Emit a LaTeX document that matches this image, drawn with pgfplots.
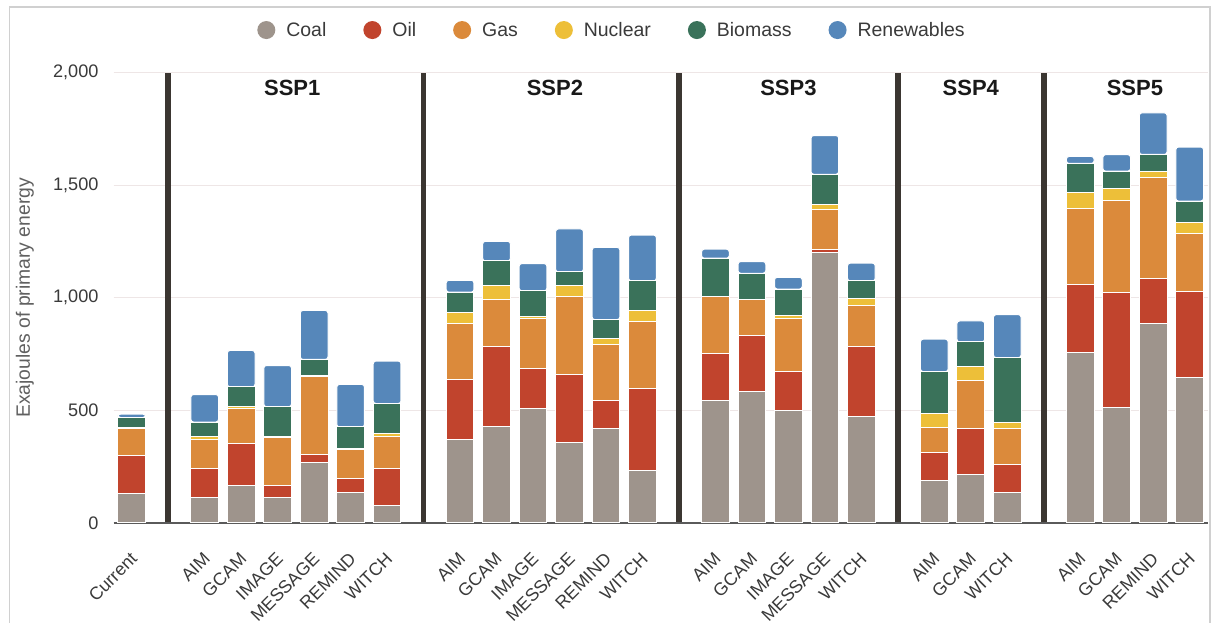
\documentclass[border=0pt]{standalone}
\usepackage{fontspec}
\setmainfont{Liberation Sans}
\usepackage{pgfplots}
\usepackage{pgfplotstable}
\pgfplotsset{compat=1.18}
\definecolor{coalc}{HTML}{9E948C}
\definecolor{oilc}{HTML}{C1442D}
\definecolor{gasc}{HTML}{DB8A3B}
\definecolor{nucc}{HTML}{EDBF39}
\definecolor{bioc}{HTML}{3A725A}
\definecolor{renc}{HTML}{5687BA}
\definecolor{sepc}{HTML}{3B3631}
\definecolor{gridc}{HTML}{EEE6E6}
\definecolor{axisc}{HTML}{5A5A5A}
\definecolor{tickc}{HTML}{3A3A3A}
\definecolor{labc}{HTML}{606060}
\definecolor{framec}{HTML}{D0D0D0}

\pgfplotstableread{
x coal oil gas nuclear biomass ren
0 131 170 118 6 43 15
2 112 129 130 11 66 122
3 166 186 158 8 86 162
4 112 54 214 3 133 183
5 269 36 347 3 71 218
6 135 60 130 4 97 189
7 77 166 139 17 131 189
9 370 269 246 51 89 53
10 430 354 207 63 110 87
11 507 181 219 12 112 121
12 355 306 343 50 61 191
13 418 125 248 28 84 321
14 231 367 297 47 133 204
16 542 209 253 3 169 40
17 582 251 158 3 115 52
18 500 173 234 14 118 52
19 1203 13 175 24 134 172
20 473 311 180 32 79 79
22 190 123 111 61 187 144
23 216 202 213 63 110 93
24 134 126 158 28 288 191
26 757 303 337 69 131 31
27 513 512 406 53 79 73
28 887 201 445 28 76 185
29 645 385 258 48 94 240
}\datatable

\pgfplotsset{
  dotlegend/.style={legend image code/.code={%
    \fill[##1,draw=none] (6.75pt,0pt) circle (6.75pt);
    \path[draw=none,fill=none] (0pt,-6.75pt) rectangle (21.75pt,6.75pt);}},
  barseg/.style={ybar, bar width=0.76, bar shift=0pt, fill=#1, draw=white, line width=0.75pt, dotlegend},
}

\begin{document}
\begin{tikzpicture}
\useasboundingbox (0,0) rectangle (912pt,466.5pt);
\fill[white] (0,0) rectangle (912pt,466.5pt);
\draw[framec, line width=0.8pt] (7.1pt,-5pt) rectangle (907.5pt,461.25pt);
\begin{axis}[
  at={(85.125pt,74.4pt)}, anchor=south west,
  scale only axis, width=820.8pt, height=337.5pt,
  xmin=-0.5, xmax=29.5, ymin=0, ymax=2000,
  clip=false,
  stack plots=y,
  axis line style={draw=none},
  tick style={draw=none},
  major tick length=0pt,
  xtick=data,
  xticklabels={Current,AIM,GCAM,IMAGE,MESSAGE,REMIND,WITCH,AIM,GCAM,IMAGE,MESSAGE,REMIND,WITCH,AIM,GCAM,IMAGE,MESSAGE,WITCH,AIM,GCAM,WITCH,AIM,GCAM,REMIND,WITCH},
  xticklabel style={font=\fontsize{13.4}{15}\selectfont, text=tickc, xshift=1.7pt, rotate=45, anchor=east, inner sep=0pt},
  xticklabel shift=24.75pt,
  ytick={500,1000,1500,2000},
  ymajorgrids,
  major grid style={draw=gridc, line width=0.75pt},
  yticklabel style={font=\fontsize{13.6}{16}\selectfont, text=tickc, anchor=east, inner sep=0pt, xshift=-11.1pt},
  /pgf/number format/1000 sep={,},
  /pgf/number format/assume math mode=true,
  extra y ticks={0},
  extra y tick labels={0},
  extra y tick style={grid=major, major grid style={draw=axisc, line width=1.5pt}},
  extra x ticks={1,8,15,21,25},
  extra x tick labels={},
  extra x tick style={grid=major, major grid style={draw=sepc, line width=4.3pt}},
  ylabel={Exajoules of primary energy},
  ylabel style={at={(axis description cs:-0.0809,0.5)}, anchor=center, font=\fontsize{14.5}{17}\selectfont, text=labc},
  legend columns=6,
  legend cell align=left,
  legend style={at={(axis description cs:0.4546,1.095)}, anchor=center, draw=none, fill=none,
    font=\fontsize{14.6}{17}\selectfont, text=tickc,
    /tikz/every even column/.append style={column sep=27.75pt},
    nodes={inner sep=0pt, text height=10.6pt, text depth=0.4pt}},
]
\addplot[barseg=coalc] table[x=x, y=coal] {\datatable};
\addlegendentry{Coal}
\addplot[barseg=oilc] table[x=x, y=oil] {\datatable};
\addlegendentry{Oil}
\addplot[barseg=gasc] table[x=x, y=gas] {\datatable};
\addlegendentry{Gas}
\addplot[barseg=nucc] table[x=x, y=nuclear] {\datatable};
\addlegendentry{Nuclear}
\addplot[barseg=bioc] table[x=x, y=biomass] {\datatable};
\addlegendentry{Biomass}
\addplot[barseg=renc, rounded corners=2pt] table[x=x, y=ren] {\datatable};
\addlegendentry{Renewables}
\node[font=\bfseries\fontsize{16.5}{19}\selectfont, text=black!90] at (axis cs:4.4,1932) {SSP1};
\node[font=\bfseries\fontsize{16.5}{19}\selectfont, text=black!90] at (axis cs:11.6,1932) {SSP2};
\node[font=\bfseries\fontsize{16.5}{19}\selectfont, text=black!90] at (axis cs:18,1932) {SSP3};
\node[font=\bfseries\fontsize{16.5}{19}\selectfont, text=black!90] at (axis cs:23,1932) {SSP4};
\node[font=\bfseries\fontsize{16.5}{19}\selectfont, text=black!90] at (axis cs:27.5,1932) {SSP5};
\end{axis}
\end{tikzpicture}
\end{document}
